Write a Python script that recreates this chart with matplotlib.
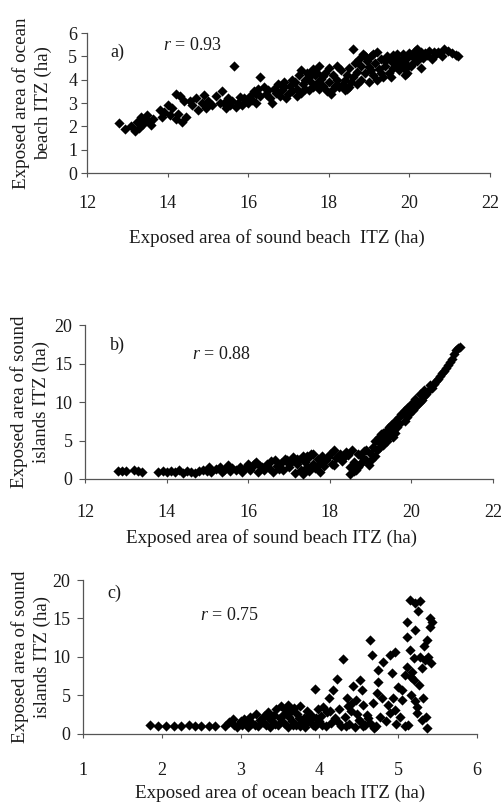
import matplotlib
matplotlib.use("Agg")
import matplotlib.pyplot as plt

# ---------------- data ----------------
# Panel a: exposed area of sound beach ITZ (x) vs ocean beach ITZ (y)
a_sound = [12.8, 12.95, 13.1, 13.2, 13.25, 13.3, 13.35, 13.4, 13.45, 13.5, 13.55, 13.6,
           13.8, 13.85, 13.9, 14.0, 14.05, 14.1, 14.2, 14.2, 14.25, 14.3, 14.35, 14.4, 14.45,
           14.6, 14.7, 14.75, 14.85, 14.9, 14.95, 15.0, 15.1, 15.2, 15.35, 15.4, 15.45, 15.5,
           15.55, 15.6, 15.65, 15.7, 15.75, 15.8, 15.85, 15.95, 16.0, 16.05, 16.1, 16.15, 16.2,
           16.25, 16.3, 16.3, 16.4, 16.45, 16.55, 16.6, 16.65, 16.7, 16.75, 16.8, 16.85, 16.9,
           16.95, 17.0, 17.05, 17.1, 17.15, 17.2, 17.25, 17.3, 17.3, 17.35, 17.4, 17.45, 17.5,
           17.5, 17.55, 17.6, 17.6, 17.65, 17.7, 17.75, 17.75, 17.8, 17.85, 17.9, 17.95, 18.0,
           18.05, 18.1, 18.15, 18.2, 18.3, 18.35, 18.4, 18.45, 18.5, 18.55, 18.6, 18.6, 18.65,
           18.7, 18.75, 18.8, 18.8, 18.85, 18.9, 18.95, 19.0, 19.0, 19.05, 19.1, 19.15, 19.2,
           19.2, 19.25, 19.3, 19.35, 19.4, 19.45, 19.5, 19.55, 19.6, 19.6, 19.65, 19.7, 19.75,
           19.8, 19.85, 19.9, 19.9, 19.95, 20.0, 20.05, 20.1, 20.15, 20.2, 20.25, 20.3, 20.3,
           20.35, 20.45, 20.5, 20.55, 20.65, 20.7, 20.8, 20.85, 20.95, 21.05, 21.15, 21.2,
           17.1, 17.2, 17.4, 17.55, 17.7, 17.85, 18.0, 18.1, 18.25, 18.4, 18.5, 18.7, 18.9,
           19.05, 19.1, 19.3, 19.4, 19.55, 19.7, 19.75, 19.9, 20.05, 20.1, 20.2, 20.4, 20.6,
           16.9, 16.5, 16.2, 15.9, 15.3, 14.55, 13.65, 18.2, 18.45, 19.95]
a_ocean = [2.15, 1.9, 2.0, 1.8, 2.2, 1.95, 2.4, 2.1, 2.3, 2.5, 2.2, 2.05,
           2.7, 2.4, 2.6, 2.9, 2.5, 2.8, 3.4, 2.3, 2.55, 3.3, 2.2, 3.1, 2.4,
           2.9, 3.2, 2.7, 3.0, 3.35, 2.8, 3.1, 2.9, 3.3, 3.5, 3.0, 2.8, 3.2,
           2.9, 3.1, 4.6, 2.85, 3.0, 3.25, 2.9, 3.1, 3.0, 3.3, 3.15, 3.5, 3.0,
           3.6, 4.1, 3.3, 3.7, 3.4, 3.2, 3.0, 3.6, 3.45, 3.8, 3.3, 3.55, 3.7,
           3.2, 3.4, 3.75, 3.5, 3.9, 3.6, 4.2, 3.45, 4.4, 3.8, 4.0, 4.3, 3.55,
           4.1, 3.9, 4.45, 3.7, 4.2, 3.85, 4.6, 3.6, 4.05, 3.75, 4.3, 3.5, 3.9,
           3.4, 4.2, 3.75, 4.0, 4.4, 3.8, 3.55, 4.2, 4.5, 3.9, 5.3, 4.1, 4.7,
           4.35, 4.9, 4.0, 4.6, 5.1, 4.3, 4.8, 3.9, 4.55, 5.0, 4.2, 4.7, 5.2,
           4.0, 4.45, 4.9, 4.1, 4.6, 5.0, 4.3, 4.8, 5.05, 4.5, 4.75, 4.95, 4.4,
           4.85, 5.1, 4.2, 4.7, 4.95, 5.15, 4.6, 5.0, 5.25, 4.8, 5.1, 4.5, 5.2,
           4.95, 5.05, 5.25, 4.9, 5.1, 5.2, 5.0, 5.3, 5.25, 5.15, 5.05, 5.0,
           4.0, 3.3, 3.6, 4.35, 4.3, 4.15, 4.5, 3.6, 3.7, 4.0, 3.7, 3.8, 5.0,
           4.4, 5.1, 4.3, 4.8, 4.1, 5.1, 4.6, 4.45, 5.05, 4.7, 5.3, 5.15, 5.2,
           3.9, 3.55, 3.4, 3.2, 3.0, 3.1, 2.3, 4.6, 3.6, 4.3]

# Panel b: exposed area of sound beach ITZ (x) vs sound islands ITZ (y)
b_sound = [12.8, 12.9, 13.0, 13.2, 13.3, 13.4, 13.8, 13.9, 14.0, 14.1, 14.2, 14.3, 14.4,
           14.5, 14.6, 14.7, 14.8, 14.9, 15.0, 15.05, 15.1, 15.2, 15.3, 15.35, 15.4, 15.5,
           15.55, 15.6, 15.7, 15.8, 15.85, 15.9, 16.0, 16.05, 16.1, 16.2, 16.25, 16.3, 16.4,
           16.45, 16.5, 16.6, 16.65, 16.7, 16.8, 16.85, 16.9, 17.0, 17.05, 17.1, 17.15, 17.2,
           17.25, 17.3, 17.35, 17.35, 17.4, 17.45, 17.5, 17.5, 17.55, 17.6, 17.65, 17.7, 17.75,
           17.8, 17.85, 17.9, 18.0, 18.05, 18.1, 18.15, 18.2, 18.3, 18.4, 18.5, 18.5, 18.55,
           18.6, 18.65, 18.7, 18.75, 18.8, 18.85, 18.9, 19.0, 19.05, 19.1, 19.15, 19.2, 19.25,
           19.3, 19.35, 19.4, 19.45, 19.5, 19.55, 19.6, 19.65, 19.7, 19.8, 19.85, 19.9, 19.95,
           20.0, 20.05, 20.1, 20.15, 20.2, 20.25, 20.3, 20.35, 20.45, 20.5, 20.6, 20.7, 20.8,
           20.9, 21.0, 21.05, 21.1, 21.2,
           17.0, 17.2, 17.4, 17.45, 17.6, 17.7, 17.8, 17.95, 18.1, 18.25, 18.35, 18.45, 18.6,
           18.7, 18.8, 18.9, 18.95, 19.0, 19.1, 19.2, 19.25, 19.3, 19.4, 19.45, 19.55, 19.6,
           19.7, 19.75, 19.85, 19.9, 20.0, 20.1, 20.2, 20.3, 20.4, 20.55, 20.65, 20.75, 20.85,
           20.95, 21.15, 16.55, 16.75, 16.95, 16.35, 16.15]
b_islands = [1.0, 1.0, 1.0, 1.1, 1.0, 0.9, 0.9, 1.0, 0.9, 1.0, 0.9, 1.1, 0.8,
             1.0, 0.9, 0.8, 1.0, 1.2, 1.0, 1.5, 0.9, 1.3, 1.6, 0.9, 1.2, 1.8,
             1.0, 1.4, 1.1, 1.6, 0.9, 1.3, 1.9, 1.1, 1.5, 2.2, 0.9, 1.7, 1.2,
             2.0, 1.4, 0.9, 2.5, 1.7, 2.1, 1.1, 2.6, 1.5, 2.2, 2.8, 0.8, 1.9,
             2.5, 1.2, 3.0, 0.6, 2.2, 1.6, 2.8, 1.0, 3.2, 2.0, 1.4, 2.6, 0.9,
             3.0, 1.7, 2.4, 3.3, 2.0, 3.7, 2.7, 3.0, 2.3, 3.5, 0.6, 1.5, 3.8,
             2.2, 1.2, 3.3, 2.0, 2.8, 3.6, 2.5, 3.2, 4.2, 5.0, 3.8, 5.5, 4.6,
             6.0, 5.2, 6.4, 5.6, 7.0, 6.2, 7.5, 6.8, 8.0, 8.6, 7.6, 9.2, 8.4,
             9.8, 9.0, 10.4, 9.6, 11.0, 10.3, 11.6, 11.0, 12.2, 11.8, 12.8, 13.4, 14.0,
             14.8, 15.6, 16.2, 16.8, 17.2,
             2.0, 2.6, 1.0, 3.0, 3.3, 1.8, 2.2, 2.8, 1.8, 3.2, 2.8, 3.1, 1.0,
             1.6, 2.2, 3.8, 1.8, 2.5, 3.0, 4.0, 5.8, 4.4, 5.0, 6.8, 5.4, 6.0,
             7.2, 8.4, 9.0, 8.0, 8.8, 9.4, 10.0, 10.8, 11.5, 12.4, 13.0, 13.8, 14.4,
             15.2, 17.0, 2.3, 1.3, 2.4, 1.6, 1.9]

# Panel c: exposed area of ocean beach ITZ (x) vs sound islands ITZ (y)
c_ocean = [1.85, 1.95, 2.05, 2.15, 2.25, 2.35, 2.42, 2.5, 2.6, 2.68, 2.8, 2.85, 2.9, 2.92,
           2.95, 3.0, 3.02, 3.05, 3.1, 3.12, 3.15, 3.2, 3.22, 3.25, 3.3, 3.32, 3.35, 3.38,
           3.4, 3.42, 3.45, 3.48, 3.5, 3.52, 3.55, 3.58, 3.6, 3.6, 3.62, 3.65, 3.68, 3.7,
           3.72, 3.75, 3.78, 3.8, 3.82, 3.85, 3.88, 3.9, 3.92, 3.95, 3.98, 4.0, 4.02, 4.05,
           4.08, 4.1, 4.12, 4.15, 4.18, 4.2, 4.22, 4.25, 4.28, 4.3, 4.32, 4.35, 4.38, 4.4,
           4.41, 4.43, 4.45, 4.48, 4.5, 4.52, 4.52, 4.54, 4.55, 4.58, 4.6, 4.64, 4.64, 4.67,
           4.68, 4.7, 4.72, 4.73, 4.74, 4.74, 4.77, 4.79, 4.81, 4.85, 4.87, 4.9, 4.9, 4.92,
           4.93, 4.96, 4.96, 4.98, 5.0, 5.02, 5.05, 5.05, 5.09, 5.09, 5.11, 5.11, 5.11, 5.13,
           5.15, 5.15, 5.17, 5.17, 5.2, 5.21, 5.22, 5.24, 5.24, 5.25, 5.26, 5.28, 5.28, 5.3,
           5.3, 5.32, 5.33, 5.37, 5.37, 5.38, 5.4, 5.4, 5.42, 5.43,
           2.98, 3.08, 3.18, 3.28, 3.36, 3.44, 3.54, 3.56, 3.64, 3.66, 3.74, 3.76, 3.84,
           3.86, 3.94, 3.96, 4.04, 4.14, 4.24, 4.34, 4.36, 4.46, 4.56, 4.62, 5.2, 5.18,
           5.22, 5.35, 5.34]
c_islands = [1.1, 1.0, 1.0, 1.0, 1.0, 1.1, 1.0, 1.0, 1.0, 1.0, 1.0, 1.5, 1.9, 1.2,
             0.9, 1.6, 1.1, 1.9, 0.9, 2.2, 1.4, 2.6, 1.0, 1.8, 2.3, 1.2, 2.8, 0.9,
             1.6, 2.5, 3.2, 1.1, 2.0, 3.6, 1.4, 2.8, 0.9, 3.8, 2.2, 1.7, 3.3, 1.1,
             2.6, 3.6, 1.5, 2.1, 0.9, 3.0, 1.8, 2.5, 1.2, 5.8, 3.2, 1.6, 2.3, 3.5,
             1.0, 2.8, 4.7, 1.4, 5.7, 2.0, 7.1, 3.2, 1.0, 9.7, 2.2, 4.7, 1.3, 3.0,
             4.0, 6.2, 0.9, 2.6, 1.8, 7.0, 1.6, 5.7, 3.8, 1.2, 2.5, 12.2, 1.4, 10.3,
             4.0, 0.8, 1.0, 5.3, 8.3, 6.8, 2.2, 4.7, 9.4, 1.6, 3.8, 10.3, 2.7, 7.9,
             4.7, 10.6, 3.1, 1.3, 6.1, 2.2, 5.7, 4.4, 7.6, 1.0, 14.5, 12.6, 8.7, 1.2,
             17.4, 10.9, 7.4, 5.1, 9.8, 13.5, 17.0, 3.5, 2.7, 16.0, 6.4, 17.3, 10.0, 8.6,
             1.8, 4.6, 11.4, 12.2, 0.8, 10.0, 15.1, 13.9, 9.2, 14.5,
             1.3, 1.6, 1.2, 1.5, 2.0, 1.3, 2.4, 3.2, 2.9, 1.2, 2.0, 1.0, 1.5,
             2.3, 1.0, 2.0, 1.2, 3.0, 1.5, 1.0, 3.6, 4.4, 1.0, 2.0, 7.0, 8.0,
             4.2, 2.2, 9.6]

panels = [
    dict(x=a_sound, y=a_ocean, xlim=(12, 22), ylim=(0, 6),
         xticks=[12, 14, 16, 18, 20, 22], yticks=[0, 1, 2, 3, 4, 5, 6],
         xlabel="Exposed area of sound beach  ITZ (ha)",
         ylabel="Exposed area of ocean\nbeach ITZ (ha)",
         tag="a)", r="0.93",
         rect=[0.173, 0.786, 0.801, 0.173], tagpos=(110, 52), rpos=(163, 45),
         xlabpos=277, xlab_y=238, xpad=13, ypad=7, ylabx=32),
    dict(x=b_sound, y=b_islands, xlim=(12, 22), ylim=(0, 20),
         xticks=[12, 14, 16, 18, 20, 22], yticks=[0, 5, 10, 15, 20],
         xlabel="Exposed area of sound beach ITZ (ha)",
         ylabel="Exposed area of sound\nislands ITZ (ha)",
         tag="b)", r="0.88",
         rect=[0.169, 0.408, 0.811, 0.190], tagpos=(110, 345), rpos=(192, 355),
         xlabpos=272, xlab_y=538, xpad=15, ypad=9, ylabx=30),
    dict(x=c_ocean, y=c_islands, xlim=(1, 6), ylim=(0, 20),
         xticks=[1, 2, 3, 4, 5, 6], yticks=[0, 5, 10, 15, 20],
         xlabel="Exposed area of ocean beach ITZ (ha)",
         ylabel="Exposed area of sound\nislands ITZ (ha)",
         tag="c)", r="0.75",
         rect=[0.165, 0.093, 0.783, 0.190], tagpos=(107, 593), rpos=(200, 615),
         xlabpos=280, xlab_y=793, xpad=17, ypad=9, ylabx=31),
]

W, H = 503, 809
plt.rcParams['font.family'] = ['Liberation Serif', 'DejaVu Serif']
plt.rcParams['mathtext.fontset'] = 'custom'
plt.rcParams['mathtext.rm'] = 'Liberation Serif'
plt.rcParams['mathtext.it'] = 'Liberation Serif:italic'
fig = plt.figure(figsize=(W / 100, H / 100), dpi=100)
ink = '#1a1a1a'

for p in panels:
    ax = fig.add_axes(p['rect'])
    ax.scatter(p['x'], p['y'], marker='D', s=27, color='black', linewidths=0, zorder=3)
    ax.set_xlim(*p['xlim'])
    ax.set_ylim(*p['ylim'])
    ax.set_xticks(p['xticks'])
    ax.set_yticks(p['yticks'])
    for s in ['top', 'right']:
        ax.spines[s].set_visible(False)
    for s in ['left', 'bottom']:
        ax.spines[s].set_color('#555555')
        ax.spines[s].set_linewidth(0.9)
    ax.tick_params(axis='y', direction='out', length=4, width=0.8, color='#555555',
                   labelsize=13, pad=p['ypad'] - 4, labelcolor=ink)
    ax.tick_params(axis='x', direction='out', length=3, width=0.8, color='#555555',
                   labelsize=13, pad=p['xpad'], labelcolor=ink)
    fig.text(p['xlabpos'] / W, 1 - p['xlab_y'] / H, p['xlabel'], ha='center', va='center',
             fontsize=13.7, color=ink)
    bb = p['rect']
    fig.text(p['ylabx'] / W, bb[1] + bb[3] / 2, p['ylabel'], ha='center', va='center',
             rotation=90, fontsize=13.7, color=ink, linespacing=1.3)
    fig.text(p['tagpos'][0] / W, 1 - p['tagpos'][1] / H, p['tag'], ha='left', va='center',
             fontsize=13, color=ink)
    fig.text(p['rpos'][0] / W, 1 - p['rpos'][1] / H, r"$\mathit{r}$ = " + p['r'], ha='left',
             va='center', fontsize=13, color=ink)

fig.savefig('out.png', dpi=100, facecolor='white')
